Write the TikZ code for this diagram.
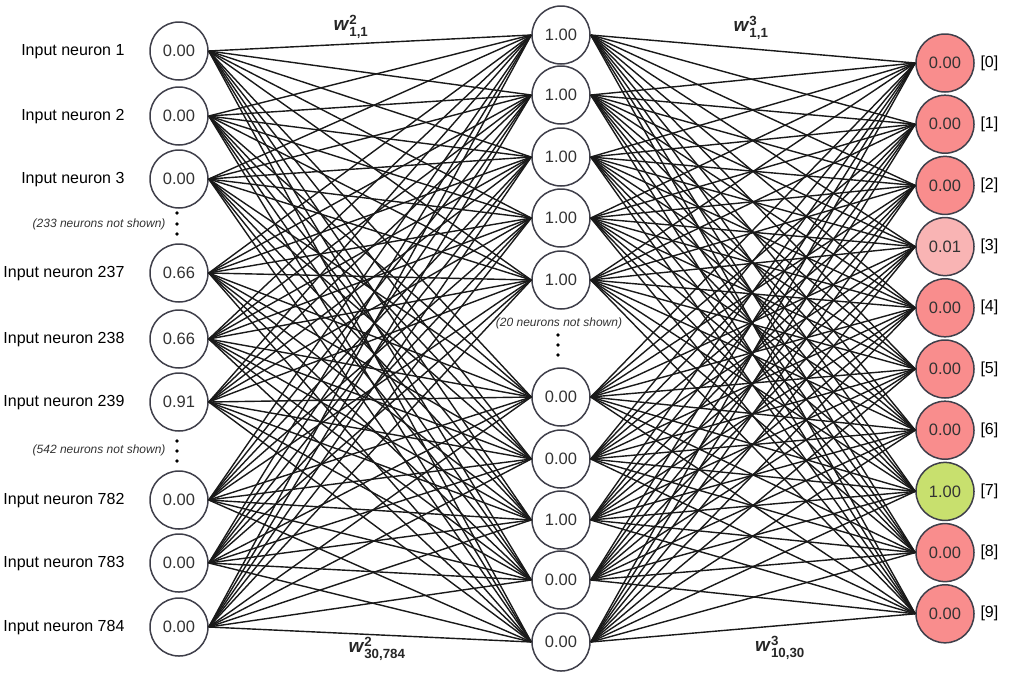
\documentclass[tikz,border=0pt]{standalone}
\usepackage{amsmath}
\usepackage{fontspec}
\setmainfont{Liberation Sans}
\usetikzlibrary{positioning}
\definecolor{outred}{HTML}{F98D8D}
\definecolor{outpink}{HTML}{F9B4B4}
\definecolor{outgreen}{HTML}{C8E06E}
\definecolor{ringgray}{HTML}{3F3F4A}

\begin{document}
\begin{tikzpicture}[x=1pt,y=-1pt,
  neuron/.style={circle,draw=ringgray,line width=1.5pt,fill=white,minimum size=58pt,
                 inner sep=0pt,font=\fontsize{16.5}{19}\selectfont,text=black!80},
  link/.style={line width=1.4pt,black!90},
  inname/.style={font=\fontsize{16}{19}\selectfont,anchor=east},
  hidenote/.style={font=\fontsize{12}{14}\selectfont\itshape,text=black!80},
  wlabel/.style={font=\fontsize{19}{22}\selectfont,text=black!85}]
  \useasboundingbox (0,0) rectangle (1024,673);
  % input layer
  \foreach \i/\y/\n/\v in {1/51/1/0.00, 2/116/2/0.00, 3/179/3/0.00, 4/273/237/0.66,
      5/339/238/0.66, 6/402/239/0.91, 7/500/782/0.00, 8/563/783/0.00, 9/627/784/0.00}{
    \node[neuron] (in\i) at (179,\y) {\v};
    \node[inname] (inlab\i) at (128,\y+1) {Input neuron \n};
  }
  % hidden layer
  \foreach \i/\y/\v in {1/35/1.00, 2/95/1.00, 3/157/1.00, 4/218/1.00, 5/280/1.00,
      6/397/0.00, 7/459/0.00, 8/520/1.00, 9/580/0.00, 10/642/0.00}{
    \node[neuron] (hid\i) at (561,\y) {\v};
  }
  % output layer
  \foreach \i/\c/\v in {0/outred/0.00, 1/outred/0.00, 2/outred/0.00, 3/outpink/0.01,
      4/outred/0.00, 5/outred/0.00, 6/outred/0.00, 7/outgreen/1.00, 8/outred/0.00,
      9/outred/0.00}{
    \node[neuron,fill=\c] (out\i) at (945,63+61.2*\i) {\v};
    \node[inname,anchor=west] (outlab\i) at (977,63+61.2*\i) {[\i]};
  }
  % connections
  \foreach \a in {1,...,9}
    \foreach \b in {1,...,10}
      \draw[link] (in\a.east) -- (hid\b.west);
  \foreach \a in {1,...,10}
    \foreach \b in {0,...,9}
      \draw[link] (hid\a.east) -- (out\b.west);
  % skipped neurons
  \node[hidenote,anchor=east] (skipa) at (169,224) {(233 neurons not shown)};
  \node[hidenote,anchor=east] (skipb) at (169,450) {(542 neurons not shown)};
  \node[hidenote] (skipc) at (559,323) {(20 neurons not shown)};
  \foreach \d in {213,224,234,441,451,461}
    \fill (177,\d) circle (1.8pt);
  \foreach \d in {335,345,355}
    \fill (558,\d) circle (1.8pt);
  % weights
  \node[wlabel] (wa) at (351,27) {$\textbf{\textit{w}}^{\textbf{2}}_{\textbf{1,1}}$};
  \node[wlabel] (wb) at (377,649) {$\textbf{\textit{w}}^{\textbf{2}}_{\textbf{30,784}}$};
  \node[wlabel] (wc) at (751,28) {$\textbf{\textit{w}}^{\textbf{3}}_{\textbf{1,1}}$};
  \node[wlabel] (wd) at (780,648) {$\textbf{\textit{w}}^{\textbf{3}}_{\textbf{10,30}}$};
\end{tikzpicture}
\end{document}
